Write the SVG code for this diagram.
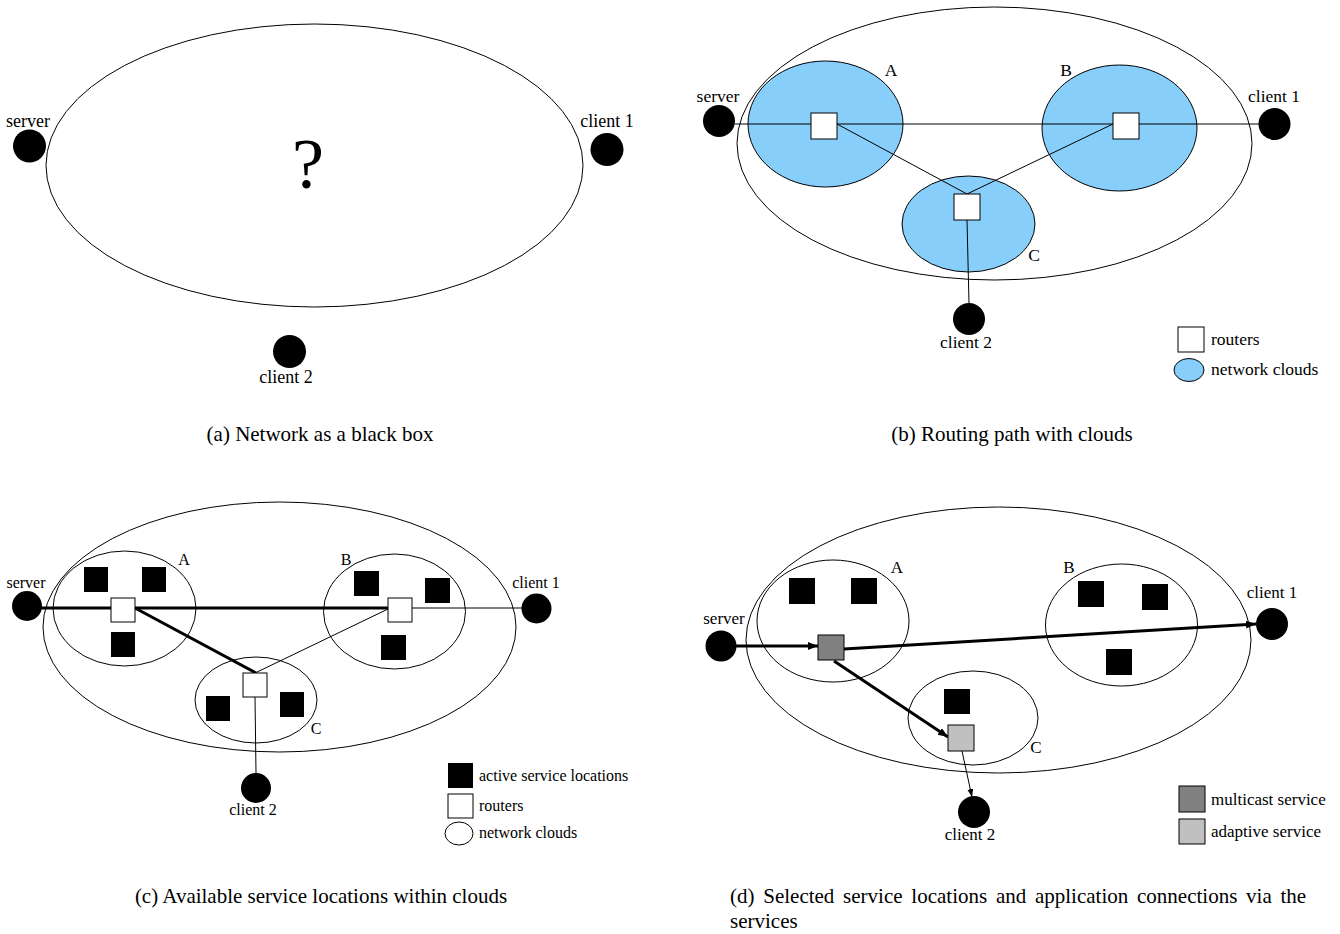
<svg xmlns="http://www.w3.org/2000/svg" width="1340" height="934" viewBox="0 0 1340 934">
<style>
.ln{fill:none;stroke:#000;stroke-width:1}
.thk{fill:none;stroke:#000;stroke-width:3}
.cl{fill:none;stroke:#000;stroke-width:1}
.bc{fill:#87cefa;stroke:#000;stroke-width:1}
.rt{fill:#fff;stroke:#000;stroke-width:1}
.sv{fill:#000}
.dot{fill:#000}
.mc{fill:#808080;stroke:#000;stroke-width:1}
.ad{fill:#c0c0c0;stroke:#000;stroke-width:1}
text{font-family:"Liberation Serif","Times New Roman",serif;fill:#000}
.la{font-size:18px}
.lb{font-size:17.5px}
.lc{font-size:16px}
.ld{font-size:17px}
.cap{font-size:21px}
</style>
<defs>
<marker id="ah" markerUnits="userSpaceOnUse" markerWidth="12" markerHeight="10" refX="10" refY="4" orient="auto">
<path d="M0,0 L10,4 L0,8 z" fill="#000"/>
</marker>
<marker id="ahs" markerUnits="userSpaceOnUse" markerWidth="10" markerHeight="8" refX="8" refY="3" orient="auto">
<path d="M0,0 L8,3 L0,6 z" fill="#000"/>
</marker>
</defs>

<!-- Panel (a) -->
<g id="a-network"><ellipse class="cl" cx="314.5" cy="165.5" rx="268.5" ry="141.5"/><text x="308" y="188" text-anchor="middle" font-size="72">?</text></g>
<g id="a-server"><circle class="dot" cx="29.5" cy="146" r="16.5"/><text class="la" x="28" y="127" text-anchor="middle">server</text></g>
<g id="a-client1"><circle class="dot" cx="607" cy="149.5" r="16.5"/><text class="la" x="607" y="127" text-anchor="middle">client 1</text></g>
<g id="a-client2"><circle class="dot" cx="289.5" cy="351.5" r="16.5"/><text class="la" x="286" y="383" text-anchor="middle">client 2</text></g>
<text class="cap" x="320" y="441" text-anchor="middle">(a) Network as a black box</text>

<!-- Panel (b) -->
<g id="b-network"><ellipse class="cl" cx="994.5" cy="143.5" rx="257.5" ry="136.5"/></g>
<g id="b-cloudA"><ellipse class="bc" cx="825.5" cy="124" rx="77.5" ry="63"/><text class="lb" x="891" y="76" text-anchor="middle">A</text></g>
<g id="b-cloudB"><ellipse class="bc" cx="1119.5" cy="128" rx="77.5" ry="63"/><text class="lb" x="1066" y="76" text-anchor="middle">B</text></g>
<g id="b-cloudC"><ellipse class="bc" cx="968.5" cy="224" rx="66.5" ry="48"/><text class="lb" x="1034" y="261" text-anchor="middle">C</text></g>
<g id="b-connectors">
<line class="ln" x1="735" y1="124" x2="1259" y2="124"/>
<line class="ln" x1="837" y1="124" x2="967" y2="194"/>
<line class="ln" x1="1113" y1="124" x2="967" y2="194"/>
<line class="ln" x1="967" y1="220" x2="969" y2="303"/>
</g>
<g id="b-routerA"><rect class="rt" x="811" y="113" width="26" height="26"/></g>
<g id="b-routerB"><rect class="rt" x="1113" y="113" width="26" height="26"/></g>
<g id="b-routerC"><rect class="rt" x="954" y="194" width="26" height="26"/></g>
<g id="b-server"><circle class="dot" cx="719" cy="121" r="16"/><text class="lb" x="718" y="102" text-anchor="middle">server</text></g>
<g id="b-client1"><circle class="dot" cx="1274.5" cy="124" r="16"/><text class="lb" x="1274" y="102" text-anchor="middle">client 1</text></g>
<g id="b-client2"><circle class="dot" cx="969" cy="319" r="16"/><text class="lb" x="966" y="348" text-anchor="middle">client 2</text></g>
<g id="b-legend">
<rect class="rt" x="1178" y="327" width="26" height="25"/><text class="lb" x="1211" y="345">routers</text>
<ellipse class="bc" cx="1189" cy="370" rx="15" ry="11.5"/><text class="lb" x="1211" y="375">network clouds</text>
</g>
<text class="cap" x="1012" y="441" text-anchor="middle">(b) Routing path with clouds</text>

<!-- Panel (c) -->
<g id="c-network"><ellipse class="cl" cx="279.5" cy="627" rx="236.5" ry="125"/></g>
<g id="c-cloudA"><ellipse class="cl" cx="124.5" cy="608.5" rx="71.5" ry="57.5"/><text class="lc" x="184" y="565" text-anchor="middle">A</text>
<rect class="sv" x="84" y="567" width="24" height="25"/><rect class="sv" x="142" y="567" width="24" height="25"/><rect class="sv" x="111" y="632" width="24" height="25"/></g>
<g id="c-cloudB"><ellipse class="cl" cx="394.5" cy="611.5" rx="71" ry="57.5"/><text class="lc" x="346" y="565" text-anchor="middle">B</text>
<rect class="sv" x="354" y="571" width="25" height="25"/><rect class="sv" x="425" y="578" width="25" height="25"/><rect class="sv" x="381" y="635" width="25" height="25"/></g>
<g id="c-cloudC"><ellipse class="cl" cx="256" cy="700" rx="61" ry="43"/><text class="lc" x="316" y="734" text-anchor="middle">C</text>
<rect class="sv" x="206" y="696" width="24" height="25"/><rect class="sv" x="280" y="692" width="24" height="25"/></g>
<g id="c-connectors">
<line class="thk" x1="40" y1="608" x2="390" y2="608"/>
<line class="thk" x1="135" y1="608" x2="256" y2="673"/>
<line class="ln" x1="388" y1="609" x2="255" y2="673"/>
<line class="ln" x1="412" y1="608" x2="522" y2="608"/>
<line class="ln" x1="255" y1="697" x2="256" y2="773"/>
</g>
<g id="c-routerA"><rect class="rt" x="111" y="598" width="24" height="24"/></g>
<g id="c-routerB"><rect class="rt" x="388" y="598" width="24" height="24"/></g>
<g id="c-routerC"><rect class="rt" x="243" y="673" width="24" height="24"/></g>
<g id="c-server"><circle class="dot" cx="27" cy="606" r="15"/><text class="lc" x="26" y="588" text-anchor="middle">server</text></g>
<g id="c-client1"><circle class="dot" cx="536.5" cy="608.5" r="15"/><text class="lc" x="536" y="588" text-anchor="middle">client 1</text></g>
<g id="c-client2"><circle class="dot" cx="256" cy="788" r="15"/><text class="lc" x="253" y="815" text-anchor="middle">client 2</text></g>
<g id="c-legend">
<rect class="sv" x="448" y="763" width="25" height="25"/><text class="lc" x="479" y="781">active service locations</text>
<rect class="rt" x="448" y="794" width="25" height="24"/><text class="lc" x="479" y="811">routers</text>
<ellipse class="cl" cx="459" cy="833.5" rx="14" ry="11.5"/><text class="lc" x="479" y="838">network clouds</text>
</g>
<text class="cap" x="321" y="903" text-anchor="middle">(c) Available service locations within clouds</text>

<!-- Panel (d) -->
<g id="d-network"><ellipse class="cl" cx="998.5" cy="640" rx="252.5" ry="133"/></g>
<g id="d-cloudA"><ellipse class="cl" cx="833" cy="621" rx="76" ry="61"/><text class="ld" x="897" y="573" text-anchor="middle">A</text>
<rect class="sv" x="789" y="578" width="26" height="26"/><rect class="sv" x="851" y="578" width="26" height="26"/></g>
<g id="d-cloudB"><ellipse class="cl" cx="1121.5" cy="625" rx="76" ry="61"/><text class="ld" x="1069" y="573" text-anchor="middle">B</text>
<rect class="sv" x="1078" y="581" width="26" height="26"/><rect class="sv" x="1142" y="584" width="26" height="26"/><rect class="sv" x="1106" y="649" width="26" height="26"/></g>
<g id="d-cloudC"><ellipse class="cl" cx="973" cy="718" rx="65" ry="47"/><text class="ld" x="1036" y="753" text-anchor="middle">C</text>
<rect class="sv" x="944" y="689" width="26" height="25"/></g>
<g id="d-connectors">
<line class="thk" x1="736" y1="646" x2="818" y2="646" marker-end="url(#ah)"/>
<line class="thk" x1="844" y1="649" x2="1256" y2="624" marker-end="url(#ah)"/>
<line class="thk" x1="834" y1="661" x2="948" y2="737" marker-end="url(#ah)"/>
<line class="ln" x1="962" y1="751" x2="972" y2="797" marker-end="url(#ahs)"/>
</g>
<g id="d-multicast"><rect class="mc" x="818" y="635" width="26" height="25"/></g>
<g id="d-adaptive"><rect class="ad" x="948" y="725" width="26" height="26"/></g>
<g id="d-server"><circle class="dot" cx="721" cy="646" r="15.5"/><text class="ld" x="724" y="624" text-anchor="middle">server</text></g>
<g id="d-client1"><circle class="dot" cx="1272" cy="624" r="16"/><text class="ld" x="1272" y="598" text-anchor="middle">client 1</text></g>
<g id="d-client2"><circle class="dot" cx="974" cy="812" r="16"/><text class="ld" x="970" y="840" text-anchor="middle">client 2</text></g>
<g id="d-legend">
<rect class="mc" x="1179" y="786" width="26" height="26"/><text class="ld" x="1211" y="805">multicast service</text>
<rect class="ad" x="1179" y="819" width="26" height="25"/><text class="ld" x="1211" y="837">adaptive service</text>
</g>
<text class="cap" x="730" y="903" word-spacing="3.5">(d) Selected service locations and application connections via the</text>
<text class="cap" x="730" y="928">services</text>
</svg>
